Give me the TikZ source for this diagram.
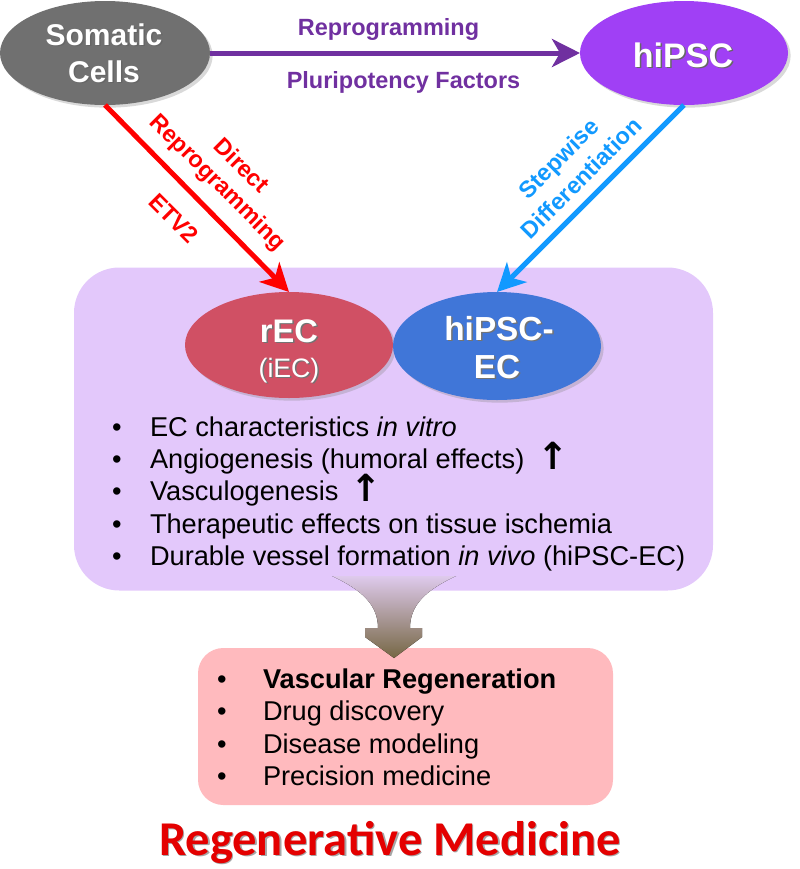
\documentclass[tikz,border=0pt]{standalone}
\usepackage{fontspec}
\setmainfont{Liberation Sans}
\newfontfamily\carlito{Carlito}
\newfontfamily\dejavu{DejaVu Sans}
\usetikzlibrary{arrows.meta,shapes.geometric,shadows,calc}
\definecolor{somgray}{RGB}{112,112,112}
\definecolor{hipurple}{RGB}{160,64,245}
\definecolor{purplec}{RGB}{112,48,160}
\definecolor{redc}{RGB}{255,0,0}
\definecolor{bluec}{RGB}{17,153,255}
\definecolor{lav}{RGB}{227,200,251}
\definecolor{recred}{RGB}{208,80,100}
\definecolor{ecblue}{RGB}{64,118,216}
\definecolor{pinkbox}{RGB}{255,186,190}
\definecolor{titlered}{RGB}{228,0,0}
\definecolor{flaretop}{RGB}{222,202,236}
\definecolor{arrowmid}{RGB}{176,160,124}
\definecolor{arrowdark}{RGB}{118,103,68}
\newcommand\shadowtext[4]{%
  \node[#1, text=#4] at ($#2+(1.5,1.5)$) {#3};
  \node[#1] at #2 {#3};}
\begin{document}
\begin{tikzpicture}[x=0.75pt,y=-0.75pt,
  every node/.style={inner sep=0pt, outer sep=0pt},
  blob/.style={ellipse, inner sep=0pt,
    drop shadow={opacity=0.3, shadow xshift=2pt, shadow yshift=-2pt}},
  conn/.style={line width=3.75pt, -{Stealth[length=21pt,width=21pt,inset=6pt]}},
  lab/.style={font=\bfseries\fontsize{17.6}{20}\selectfont},
  item/.style={anchor=base west, font=\fontsize{20.4}{24}\selectfont},
  bul/.style={anchor=base, font=\fontsize{20.4}{24}\selectfont},
  uparr/.style={anchor=base, font=\dejavu\bfseries\fontsize{28}{30}\selectfont},
]
\useasboundingbox (0,0) rectangle (800,869);

% big boxes
\node[fill=lav, rounded corners=34pt, minimum width=479.25pt, minimum height=242.25pt] (box) at (393.5,429) {};
\node[fill=pinkbox, rounded corners=19pt, minimum width=311.25pt, minimum height=117.75pt] (pbox) at (405.5,726.5) {};

% down arrow between boxes
\fill[top color=flaretop, middle color=arrowmid, bottom color=arrowdark]
  (332,576) .. controls (362,590) and (378,605) .. (378,628) -- (365,628) -- (365,637)
  -- (394,658) -- (422,637) -- (422,628) -- (410,628)
  .. controls (410,605) and (426,590) .. (456,576) -- cycle;

% ellipses
\node[blob, fill=somgray, minimum width=157.5pt, minimum height=78pt] (som) at (105,53) {};
\node[blob, fill=hipurple, minimum width=156pt, minimum height=78pt] (hip) at (684,53) {};
\node[blob, fill=recred, minimum width=156pt, minimum height=79.5pt] (rec) at (289,345) {};
\node[blob, fill=ecblue, minimum width=156pt, minimum height=81pt] (hec) at (497,346) {};

% ellipse texts
\shadowtext{anchor=base, text=white, font=\bfseries\fontsize{22.5}{27}\selectfont}{(104,45)}{Somatic}{black!60}
\shadowtext{anchor=base, text=white, font=\bfseries\fontsize{22.5}{27}\selectfont}{(104,82)}{Cells}{black!60}
\shadowtext{anchor=base, text=white, font=\bfseries\fontsize{25.5}{30}\selectfont}{(683,67)}{hiPSC}{black!60}
\shadowtext{anchor=base, text=white, font=\bfseries\fontsize{24.5}{30}\selectfont}{(289,342)}{rEC}{black!55}
\shadowtext{anchor=base, text=white, font=\fontsize{20}{24}\selectfont}{(289,377)}{(iEC)}{black!55}
\shadowtext{anchor=base, text=white, font=\bfseries\fontsize{25}{30}\selectfont}{(499,340)}{hiPSC-}{black!55}
\shadowtext{anchor=base, text=white, font=\bfseries\fontsize{25}{30}\selectfont}{(497,378)}{EC}{black!55}

% connectors
\draw[conn, purplec] (som.east) -- (hip.west);
\draw[conn, redc] (som.south) -- (rec.north);
\draw[conn, bluec] (hip.south) -- (hec.north);

% connector labels
\node[lab, text=purplec, anchor=base] (l1) at (388.5,35) {Reprogramming};
\node[lab, text=purplec, anchor=base] (l2) at (403.5,88) {Pluripotency Factors};
\node[lab, text=redc, rotate=-45] (l3) at (242,165) {Direct};
\node[lab, text=redc, rotate=-45] (l4) at (217,183) {Reprogramming};
\node[lab, text=redc, rotate=-45] (l5) at (174,218) {ETV2};
\node[lab, text=bluec, rotate=45] (l6) at (560,160) {Stepwise};
\node[lab, text=bluec, rotate=45] (l7) at (581,178) {Differentiation};

% lavender list
\node[bul] at (117,436) {•};
\node[item] (i1) at (150,436) {EC characteristics \textit{in vitro}};
\node[bul] at (117,468) {•};
\node[item] (i2) at (150,468) {Angiogenesis (humoral effects)};
\node[uparr] (u1) at (553,469) {↑};
\node[bul] at (117,500.5) {•};
\node[item] (i3) at (150,500.5) {Vasculogenesis};
\node[uparr] (u2) at (366,501.5) {↑};
\node[bul] at (117,533) {•};
\node[item] (i4) at (150,533) {Therapeutic effects on tissue ischemia};
\node[bul] at (117,565) {•};
\node[item] (i5) at (150,565) {Durable vessel formation \textit{in vivo} (hiPSC-EC)};

% pink list
\node[bul] at (222,688) {•};
\node[item] (p1) at (263,688) {\bfseries Vascular Regeneration};
\node[bul] at (222,720) {•};
\node[item] (p2) at (263,720) {Drug discovery};
\node[bul] at (222,753) {•};
\node[item] (p3) at (263,753) {Disease modeling};
\node[bul] at (222,785) {•};
\node[item] (p4) at (263,785) {Precision medicine};

% title
\shadowtext{anchor=base, text=titlered, font=\carlito\bfseries\fontsize{36.4}{40}\selectfont}{(390,855)}{Regenerative Medicine}{black!35}
\end{tikzpicture}
\end{document}
